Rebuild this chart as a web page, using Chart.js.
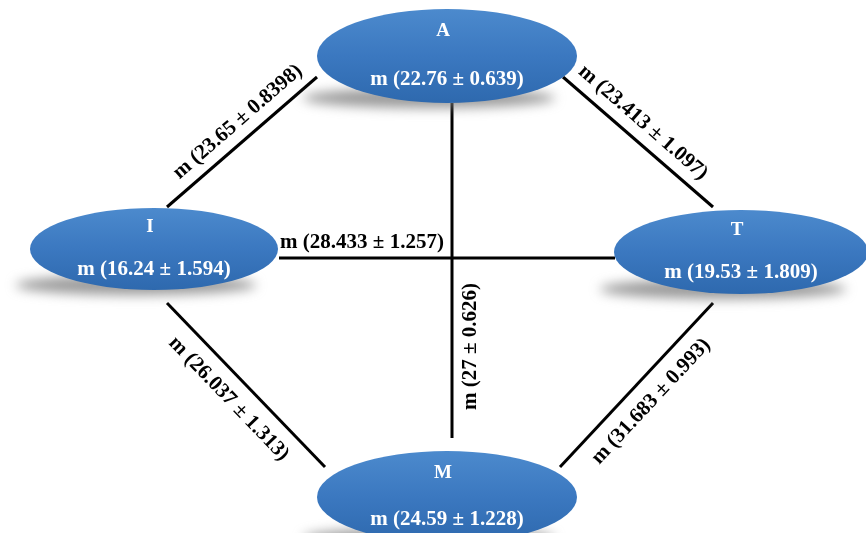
<!DOCTYPE html>
<html>
<head>
<meta charset="utf-8">
<script src="https://cdn.jsdelivr.net/npm/chart.js@4"></script>
<style>
  html, body { margin: 0; padding: 0; background: #ffffff; }
  #wrap { width: 866px; height: 533px; }
</style>
</head>
<body>
<div id="wrap"><canvas id="c" width="866" height="533"></canvas></div>
<script>
// ---- data ----
const nodeNames  = ['A', 'I', 'T', 'M'];
const nodeValues = ['m (22.76 ± 0.639)', 'm (16.24 ± 1.594)', 'm (19.53 ± 1.809)', 'm (24.59 ± 1.228)'];
const nodeX = [447, 154, 741, 447];
const nodeY = [56, 249, 252, 497];

const edgeLabels = ['m (23.65 ± 0.8398)', 'm (23.413 ± 1.097)', 'm (28.433 ± 1.257)',
                    'm (27 ± 0.626)', 'm (26.037 ± 1.313)', 'm (31.683 ± 0.993)'];
const edgeX1 = [167, 563, 279, 452, 167, 713];
const edgeY1 = [207, 77, 258, 103, 303, 303];
const edgeX2 = [317, 713, 615, 452, 325, 560];
const edgeY2 = [77, 207, 258, 438, 467, 467];

// ---- layout / style (not data) ----
const nodeStyle = { rx: [130, 124, 127, 130], ry: [47, 41, 42, 46] };
const labelShift = [10, -9, -85, -76, -2, -2];   // along the edge, px
const labelGap   = [18, 18, 15, -19, -22, -22];  // perpendicular (text-up), px

const edgeDatasets = edgeLabels.map((lab, i) => ({
  label: lab,
  data: [{ x: edgeX1[i], y: edgeY1[i] }, { x: edgeX2[i], y: edgeY2[i] }],
  showLine: true, borderColor: '#000', borderWidth: 3, pointRadius: 0, fill: false
}));
const nodeDataset = {
  label: 'nodes',
  data: nodeNames.map((n, i) => ({ x: nodeX[i], y: nodeY[i] })),
  showLine: false, pointRadius: 0
};

const diagramPlugin = {
  id: 'diagram',
  afterDatasetsDraw(chart) {
    const ctx = chart.ctx;
    const xs = chart.scales.x, ys = chart.scales.y;
    // edge labels
    edgeLabels.forEach((lab, i) => {
      const x1 = xs.getPixelForValue(edgeX1[i]), y1 = ys.getPixelForValue(edgeY1[i]);
      const x2 = xs.getPixelForValue(edgeX2[i]), y2 = ys.getPixelForValue(edgeY2[i]);
      let a = Math.atan2(y2 - y1, x2 - x1);
      if (a >= Math.PI / 2 - 1e-6) a -= Math.PI;
      if (a < -Math.PI / 2 - 1e-6) a += Math.PI;
      const mx = (x1 + x2) / 2, my = (y1 + y2) / 2;
      const dx = Math.cos(a), dy = Math.sin(a);
      const ux = Math.sin(a), uy = -Math.cos(a);
      const cx = mx + dx * labelShift[i] + ux * labelGap[i];
      const cy = my + dy * labelShift[i] + uy * labelGap[i];
      ctx.save();
      ctx.translate(cx, cy);
      ctx.rotate(a);
      ctx.fillStyle = '#000';
      ctx.font = 'bold 21px "Liberation Serif", "Times New Roman", serif';
      ctx.textAlign = 'center';
      ctx.textBaseline = 'middle';
      ctx.fillText(lab, 0, 0);
      ctx.restore();
    });
    // nodes
    nodeNames.forEach((name, i) => {
      const cx = xs.getPixelForValue(nodeX[i]);
      const cy = ys.getPixelForValue(nodeY[i]);
      const rx = Math.abs(xs.getPixelForValue(nodeX[i] + nodeStyle.rx[i]) - cx);
      const ry = Math.abs(ys.getPixelForValue(nodeY[i] + nodeStyle.ry[i]) - cy);
      // shadow
      ctx.save();
      ctx.filter = 'blur(6px)';
      ctx.fillStyle = 'rgba(120,120,120,0.75)';
      ctx.beginPath();
      ctx.ellipse(cx - 18, cy + ry - 5, rx * 0.97, 10, 0, 0, Math.PI * 2);
      ctx.fill();
      ctx.restore();
      // ellipse
      ctx.save();
      const g = ctx.createLinearGradient(0, cy - ry, 0, cy + ry);
      g.addColorStop(0, '#4c8acd');
      g.addColorStop(0.5, '#3b78c0');
      g.addColorStop(1, '#2e69ae');
      ctx.fillStyle = g;
      ctx.beginPath();
      ctx.ellipse(cx, cy, rx, ry, 0, 0, Math.PI * 2);
      ctx.fill();
      ctx.fillStyle = '#ffffff';
      ctx.textAlign = 'center';
      ctx.textBaseline = 'middle';
      ctx.font = 'bold 19px "Liberation Serif", "Times New Roman", serif';
      ctx.fillText(name, cx - 4, cy - ry * 0.5 - 1);
      ctx.font = 'bold 21px "Liberation Serif", "Times New Roman", serif';
      ctx.fillText(nodeValues[i], cx, cy + ry * 0.5);
      ctx.restore();
    });
  }
};

new Chart(document.getElementById('c'), {
  type: 'scatter',
  data: { datasets: [...edgeDatasets, nodeDataset] },
  options: {
    responsive: false,
    animation: false,
    layout: { padding: 0 },
    plugins: { legend: { display: false }, tooltip: { enabled: false } },
    scales: {
      x: { type: 'linear', min: 0, max: 866, display: false },
      y: { type: 'linear', min: 0, max: 533, reverse: true, display: false }
    }
  },
  plugins: [diagramPlugin]
});
</script>
</body>
</html>
